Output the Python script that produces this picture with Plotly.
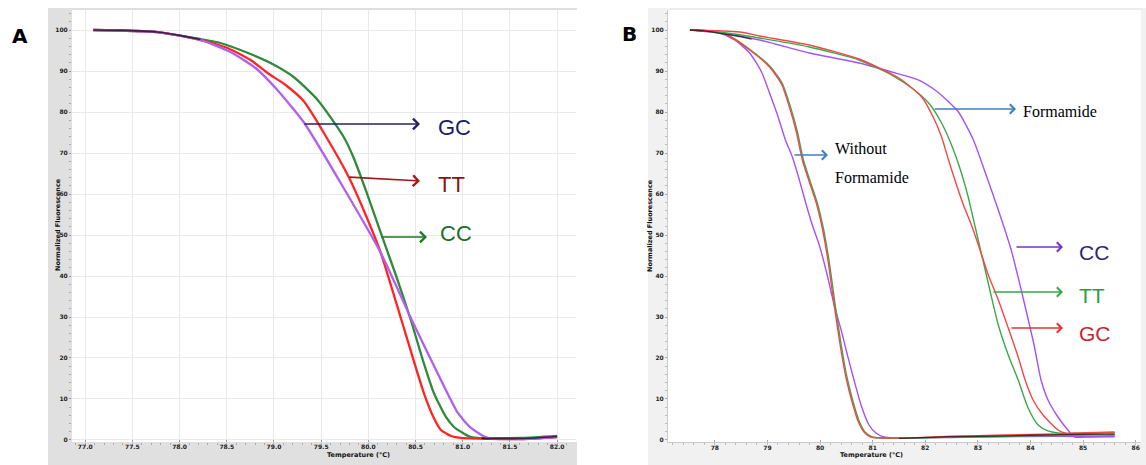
import plotly.graph_objects as go

W, H = 1146, 465

# ---------------- Panel A data (Temperature °C, Normalized fluorescence) ----------------
a_gc_x = [77.085, 77.764, 78.221, 78.539, 78.805, 79.017, 79.314, 79.707, 80.132, 80.45, 80.769, 80.949, 81.087, 81.268, 81.618, 82.0]
a_gc_y = [100, 99.51, 97.56, 94.63, 90.73, 85.85, 77.56, 62.68, 45.61, 29.76, 14.63, 6.59, 2.93, 0.49, 0.24, 0.73]

a_tt_x = [77.085, 77.764, 78.221, 78.507, 78.752, 78.932, 79.123, 79.314, 79.548, 79.792, 79.972, 80.132, 80.344, 80.588, 80.694, 80.769, 80.875, 80.981, 81.618, 82.0]
a_tt_y = [100, 99.51, 97.56, 95.61, 92.68, 89.51, 86.59, 82.68, 74.15, 64.15, 54.88, 45.61, 29.76, 11.46, 5.37, 2.44, 0.98, 0.49, 0.24, 0.73]

a_cc_x = [77.085, 77.764, 78.221, 78.433, 78.699, 78.964, 79.208, 79.463, 79.739, 79.845, 79.972, 80.132, 80.291, 80.45, 80.577, 80.694, 80.822, 80.907, 81.002, 81.087, 81.618, 82.0]
a_cc_y = [100, 99.51, 97.8, 96.83, 94.63, 91.95, 88.54, 82.93, 73.9, 68.78, 60.98, 50.49, 40.24, 29.27, 19.51, 11.46, 5.61, 3.17, 1.71, 0.73, 0.49, 0.98]

# dark trace visible where the curves overlap (start plateau and final baseline)
a_dark_x = [77.085, 77.4, 77.764, 78.0, 78.221, 80.95, 81.2, 81.618, 82.0]
a_dark_y = [100, 99.9, 99.51, 98.7, 97.7, None, 0.4, 0.35, 0.85]

a_xticks = [77.0, 77.5, 78.0, 78.5, 79.0, 79.5, 80.0, 80.5, 81.0, 81.5, 82.0]
y_ticks = [0, 10, 20, 30, 40, 50, 60, 70, 80, 90, 100]

# ---------------- Panel B data ----------------
# without formamide
b_wo_cc_x = [77.527, 78.095, 78.378, 78.662, 78.888, 79.04, 79.191, 79.342, 79.474, 79.607, 79.739, 79.853, 79.985, 80.136, 80.268, 80.401, 80.495, 80.646, 80.779, 80.93, 81.062, 81.214, 81.403, 82.5, 83.5, 84.5, 85.6]
b_wo_cc_y = [100, 99.27, 97.56, 94.39, 89.76, 84.63, 79.27, 73.17, 69.02, 63.41, 57.32, 52.44, 47.56, 40.24, 32.93, 26.83, 21.95, 14.63, 8.54, 3.66, 1.71, 0.73, 0.49, 0.6, 0.8, 0.9, 0.8]

b_wo_gc_x = [77.527, 77.905, 78.227, 78.662, 79.04, 79.267, 79.418, 79.55, 79.664, 79.796, 79.928, 80.042, 80.155, 80.268, 80.382, 80.495, 80.609, 80.722, 80.835, 80.968, 81.5, 82.5, 83.5, 84.5, 85.6]
b_wo_gc_y = [100, 99.76, 98.78, 95.12, 90.98, 86.83, 81.22, 75.12, 68.29, 62.93, 57.8, 51.71, 43.41, 32.93, 23.17, 15.12, 9.27, 4.63, 1.95, 0.73, 0.5, 0.9, 1.2, 1.5, 1.8]

b_wo_tt_x = [77.527, 77.92, 78.24, 78.68, 79.06, 79.287, 79.438, 79.57, 79.684, 79.816, 79.948, 80.062, 80.175, 80.288, 80.402, 80.515, 80.629, 80.742, 80.855, 80.988, 81.5, 82.5, 83.5, 84.5, 85.6]
b_wo_tt_y = [100, 99.76, 98.78, 95.12, 90.98, 86.83, 81.22, 75.12, 68.29, 62.93, 57.8, 51.71, 43.41, 32.93, 23.17, 15.12, 9.27, 4.63, 1.95, 0.73, 0.4, 0.7, 0.9, 1.1, 1.3]

# with formamide
b_f_cc_x = [77.527, 78.095, 78.851, 79.796, 80.741, 81.365, 81.875, 82.159, 82.386, 82.631, 82.915, 83.142, 83.388, 83.633, 83.86, 84.068, 84.2, 84.333, 84.522, 84.711, 84.843, 85.089, 85.599]
b_f_cc_y = [100, 99.27, 97.56, 94.39, 91.95, 89.76, 87.8, 85.6, 83.17, 80.0, 73.17, 65.12, 56.1, 46.34, 34.63, 23.17, 14.63, 9.76, 5.61, 2.44, 0.73, 0.73, 0.98]

b_f_tt_x = [77.527, 78.227, 78.851, 79.796, 80.741, 81.365, 81.743, 82.064, 82.31, 82.499, 82.669, 82.82, 82.953, 83.104, 83.236, 83.388, 83.577, 83.766, 83.955, 84.144, 84.333, 84.522, 85.599]
b_f_tt_y = [100, 99.27, 98.05, 95.85, 92.68, 89.02, 85.85, 82.2, 77.32, 71.95, 65.85, 59.02, 51.71, 43.41, 36.1, 28.05, 20.73, 14.63, 7.8, 3.66, 2.2, 1.71, 1.22]

b_f_gc_x = [77.527, 78.473, 78.851, 79.796, 80.741, 81.497, 81.932, 82.159, 82.31, 82.442, 82.594, 82.726, 82.877, 83.009, 83.198, 83.388, 83.577, 83.766, 83.898, 84.049, 84.238, 84.522, 84.654, 84.9, 85.599]
b_f_gc_y = [100, 99.51, 98.54, 96.34, 92.93, 88.29, 83.66, 78.54, 73.9, 68.29, 62.2, 57.32, 52.44, 47.56, 40.24, 34.15, 27.32, 20.24, 14.63, 9.76, 6.1, 2.44, 1.71, 1.71, 1.95]

b_dark_x = [77.527, 77.8, 78.1, 78.4, 78.7, 80.95, 81.5, 82.5, 83.5, 84.5, 85.6]
b_dark_y = [100, 99.8, 99.2, 98.6, 97.8, None, 0.4, 0.8, 1.0, 1.3, 1.5]

b_xticks = [78, 79, 80, 81, 82, 83, 84, 85, 86]

# ---------------- geometry helpers (pixel -> paper) ----------------
def px(x):
    return x / W

def py(y):
    return 1 - y / H

A_L, A_R, TOP, BOT = 72, 576, 10, 442
B_L, B_R = 668, 1141
Y_RANGE = [-0.49, 104.88]

fig = go.Figure()

a_cols = {"GC": "#b25ff0", "TT": "#ff2424", "CC": "#2f8a3c"}
for name, xs, ys in [("CC", a_cc_x, a_cc_y), ("TT", a_tt_x, a_tt_y), ("GC", a_gc_x, a_gc_y)]:
    fig.add_trace(go.Scatter(x=xs, y=ys, mode="lines", name=name,
                             line=dict(color=a_cols[name], width=2.3, shape="spline", smoothing=0.6),
                             xaxis="x", yaxis="y", showlegend=False))
fig.add_trace(go.Scatter(x=a_dark_x, y=a_dark_y, mode="lines", name="dark",
                         line=dict(color="rgba(20,10,10,0.75)", width=1.6, shape="spline", smoothing=0.6),
                         xaxis="x", yaxis="y", showlegend=False, connectgaps=False))

b_cols = {"CC": "#a452f2", "TT": "#3aa84c", "GC": "#f24848"}
for name, xs, ys in [("CC", b_wo_cc_x, b_wo_cc_y), ("TT", b_wo_tt_x, b_wo_tt_y), ("GC", b_wo_gc_x, b_wo_gc_y),
                     ("CC", b_f_cc_x, b_f_cc_y), ("TT", b_f_tt_x, b_f_tt_y), ("GC", b_f_gc_x, b_f_gc_y)]:
    fig.add_trace(go.Scatter(x=xs, y=ys, mode="lines", name=name,
                             line=dict(color=b_cols[name], width=1.4, shape="spline", smoothing=0.6),
                             xaxis="x2", yaxis="y2", showlegend=False))
fig.add_trace(go.Scatter(x=b_dark_x, y=b_dark_y, mode="lines", name="dark",
                         line=dict(color="rgba(20,10,10,0.7)", width=1.3, shape="spline", smoothing=0.6),
                         xaxis="x2", yaxis="y2", showlegend=False, connectgaps=False))

tickfont = dict(family="DejaVu Sans", size=6, color="#222222", weight="bold")

fig.update_layout(
    width=W, height=H,
    margin=dict(l=0, r=0, t=0, b=0),
    paper_bgcolor="white", plot_bgcolor="white",
    xaxis=dict(domain=[px(A_L), px(A_R)], range=[76.86, 82.2], anchor="y",
               tickvals=a_xticks, ticktext=[f"{v:.1f}" for v in a_xticks],
               showgrid=True, gridcolor="#e9e9e9", gridwidth=1, zeroline=False,
               ticks="inside", ticklen=2, tickcolor="#999999", tickfont=tickfont,
               minor=dict(dtick=0.1, ticks="outside", ticklen=2, tickcolor="#aaaaaa"),
               showline=False),
    yaxis=dict(domain=[py(BOT), py(TOP)], range=Y_RANGE, anchor="x",
               tickvals=y_ticks, showgrid=True, gridcolor="#e9e9e9", zeroline=False,
               ticks="outside", ticklen=2, tickcolor="#999999", tickfont=tickfont,
               minor=dict(dtick=2, ticks="outside", ticklen=2, tickcolor="#aaaaaa"),
               showline=False),
    xaxis2=dict(domain=[px(B_L), px(B_R)], range=[77.11, 86.1], anchor="y2",
                tickvals=b_xticks, showgrid=False, zeroline=False,
                ticks="inside", ticklen=2, tickcolor="#aaaaaa", tickfont=tickfont,
                minor=dict(dtick=0.2, ticks="outside", ticklen=2, tickcolor="#bbbbbb"),
                showline=True, linecolor="#cccccc", linewidth=1),
    yaxis2=dict(domain=[py(BOT), py(TOP)], range=Y_RANGE, anchor="x2",
                tickvals=y_ticks, showgrid=False, zeroline=False,
                ticks="outside", ticklen=2, tickcolor="#aaaaaa", tickfont=tickfont,
                minor=dict(dtick=2, ticks="outside", ticklen=2, tickcolor="#bbbbbb"),
                showline=True, linecolor="#cccccc", linewidth=1),
)

# gray frame strips around the plotting areas
def strip(x0, x1, y0, y1, color):
    fig.add_shape(type="rect", xref="paper", yref="paper", x0=px(x0), x1=px(x1), y0=py(y1), y1=py(y0),
                  fillcolor=color, line=dict(width=0), layer="below")

strip(48, 577, 8, 10, "#dedede")
strip(48, A_L, 8, 465, "#e0e0e0")
strip(48, 577, BOT, 465, "#e0e0e0")
strip(648, 1146, 8, 10, "#ededed")
strip(648, B_L, 8, 465, "#f1f1f1")
strip(648, 1146, BOT, 465, "#f1f1f1")
strip(B_R, 1146, 8, 465, "#f1f1f1")

ann = []
ann.append(dict(text="<b>A</b>", x=px(10), y=py(22), xref="paper", yref="paper", showarrow=False,
                xanchor="left", font=dict(family="DejaVu Sans", size=20, color="black")))
ann.append(dict(text="<b>B</b>", x=px(620), y=py(20), xref="paper", yref="paper", showarrow=False,
                xanchor="left", font=dict(family="DejaVu Sans", size=20, color="black")))

small = dict(family="DejaVu Sans", size=6.5, color="#111111", weight="bold")
for xx, yy in [(52, 225), (650, 226)]:
    ann.append(dict(text="Normalized Fluorescence", x=px(xx), y=py(yy), xref="paper", yref="paper",
                    showarrow=False, textangle=-90, font=small))
for xx, yy in [(325, 461), (905, 461)]:
    ann.append(dict(text="Temperature (°C)", x=px(xx), y=py(yy), xref="paper", yref="paper",
                    showarrow=False, font=small))

def arrow(tail, head, color, width=1.6):
    return dict(x=px(head[0]), y=py(head[1]), xref="paper", yref="paper",
                ax=tail[0] - head[0], ay=tail[1] - head[1], axref="pixel", ayref="pixel",
                showarrow=True, arrowhead=4, arrowsize=1.3, arrowwidth=width, arrowcolor=color, text="")

def label(text, x, y, color, family, size):
    return dict(text=text, x=px(x), y=py(y), xref="paper", yref="paper", showarrow=False,
                xanchor="left", yanchor="middle", font=dict(family=family, size=size, color=color))

ann.append(arrow((303, 124), (420, 124), "#23206a"))
ann.append(label("GC", 436, 127, "#1e1b5e", "Liberation Sans", 22))
ann.append(arrow((348, 177), (420, 181), "#a01818"))
ann.append(label("TT", 436, 184, "#8e1414", "Liberation Sans", 22))
ann.append(arrow((380, 237), (427, 237), "#1f7a2c"))
ann.append(label("CC", 438, 234, "#1d6e2a", "Liberation Sans", 22))

ann.append(arrow((933, 109), (1016, 109), "#3f7fc6", 1.4))
ann.append(label("Formamide", 1021, 111, "black", "Liberation Serif", 16))
ann.append(arrow((793, 155), (828, 155), "#3f7fc6", 1.4))
ann.append(label("Without", 833, 148, "black", "Liberation Serif", 16))
ann.append(label("Formamide", 833, 177, "black", "Liberation Serif", 16))
ann.append(arrow((1015, 247), (1063, 247), "#7534c2", 1.4))
ann.append(label("CC", 1077, 252, "#2e2478", "Liberation Sans", 21))
ann.append(arrow((992, 292), (1063, 292), "#38a84a", 1.4))
ann.append(label("TT", 1077, 295, "#2d9c3f", "Liberation Sans", 21))
ann.append(arrow((1010, 328), (1063, 328), "#e03434", 1.4))
ann.append(label("GC", 1077, 333, "#c4262c", "Liberation Sans", 21))

fig.update_layout(annotations=ann)

fig.write_html("out.html", config={"displayModeBar": False},
               post_script="document.body.style.margin='0px';document.body.style.overflow='hidden';")
